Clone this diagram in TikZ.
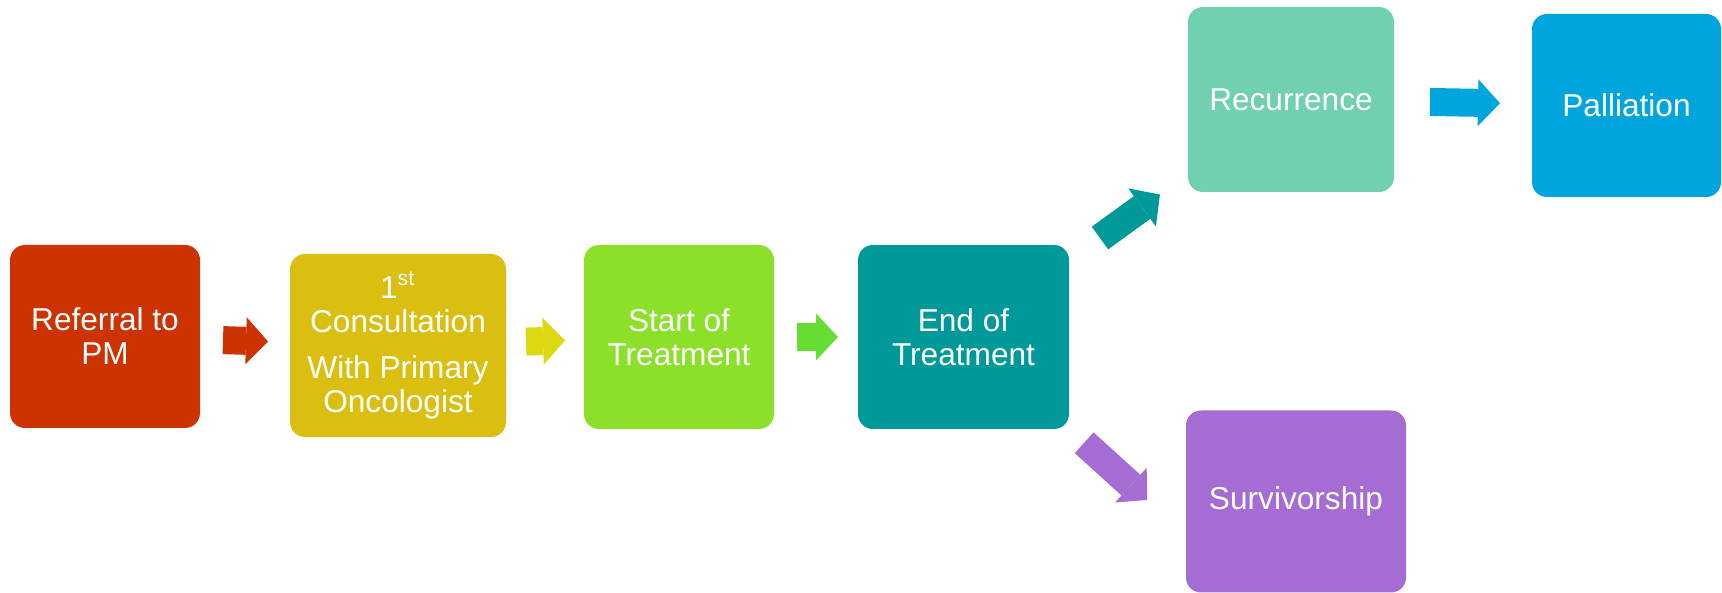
\documentclass[tikz,border=0pt]{standalone}
\usepackage{fontspec}
\setmainfont{Liberation Sans}
\usepackage{tikz}
\usetikzlibrary{positioning, arrows.meta}

\definecolor{refred}{HTML}{CC3300}
\definecolor{consgold}{HTML}{DBBF10}
\definecolor{arrowyellow}{HTML}{DDD811}
\definecolor{startlime}{HTML}{8BE12A}
\definecolor{arrowgreen}{HTML}{66DD33}
\definecolor{endteal}{HTML}{009999}
\definecolor{recmint}{HTML}{70D0B0}
\definecolor{palblue}{HTML}{00A5DE}
\definecolor{survpurple}{HTML}{A56CD3}

\begin{document}
\begin{tikzpicture}[
        font=\fontsize{9}{9.7}\selectfont,
        stage/.style={
            rounded corners=0.15cm,
            align=center,
            text=white,
            inner sep=0pt,
            outer sep=0pt,
            minimum width=1.9cm,
            minimum height=1.83cm
        },
        flow/.style={
            line width=0.28cm,
            -{Triangle[width=0.47cm, length=0.22cm, line width=0pt]}
        }
    ]
    \useasboundingbox (0,0) rectangle (17.22,-5.93);
    \node[stage, fill=refred] (R) at (1.05,-3.365) {Referral to\\PM};
    \node[stage, fill=consgold, minimum width=2.16cm, right=0.9cm of R, yshift=-0.09cm] (C) {1\textsuperscript{st}\\Consultation\\[3.4pt]With Primary\\Oncologist};
    \node[stage, fill=startlime, minimum height=1.84cm, right=0.78cm of C, yshift=0.085cm] (S) {Start of\\Treatment};
    \node[stage, fill=endteal, minimum width=2.11cm, minimum height=1.84cm, right=0.84cm of S] (E) {End of\\Treatment};
    \node[stage, fill=recmint, minimum width=2.06cm, minimum height=1.85cm, above right=0.53cm and 1.19cm of E] (Rec) {Recurrence};
    \node[stage, fill=palblue, minimum width=1.89cm, right=1.38cm of Rec, yshift=-0.06cm] (Pal) {Palliation};
    \node[stage, fill=survpurple, minimum width=2.2cm, minimum height=1.82cm, right=1.17cm of E, yshift=-1.645cm] (Sur) {Survivorship};

    \draw[flow, refred, shorten <=0.23cm, shorten >=0.22cm] (R) -- (C);
    \draw[flow, arrowyellow, shorten <=0.2cm, shorten >=0.19cm] (C) -- (S);
    \draw[flow, arrowgreen, shorten <=0.23cm, shorten >=0.2cm] (S) -- (E);
    \draw[flow, endteal, shorten <=0.383cm, shorten >=0.347cm] (E) -- (Rec);
    \draw[flow, palblue, shorten <=0.36cm, shorten >=0.32cm] (Rec) -- (Pal);
    \draw[flow, survpurple, shorten <=0.205cm, shorten >=0.524cm] (E.south east) -- (Sur.197);
\end{tikzpicture}
\end{document}
